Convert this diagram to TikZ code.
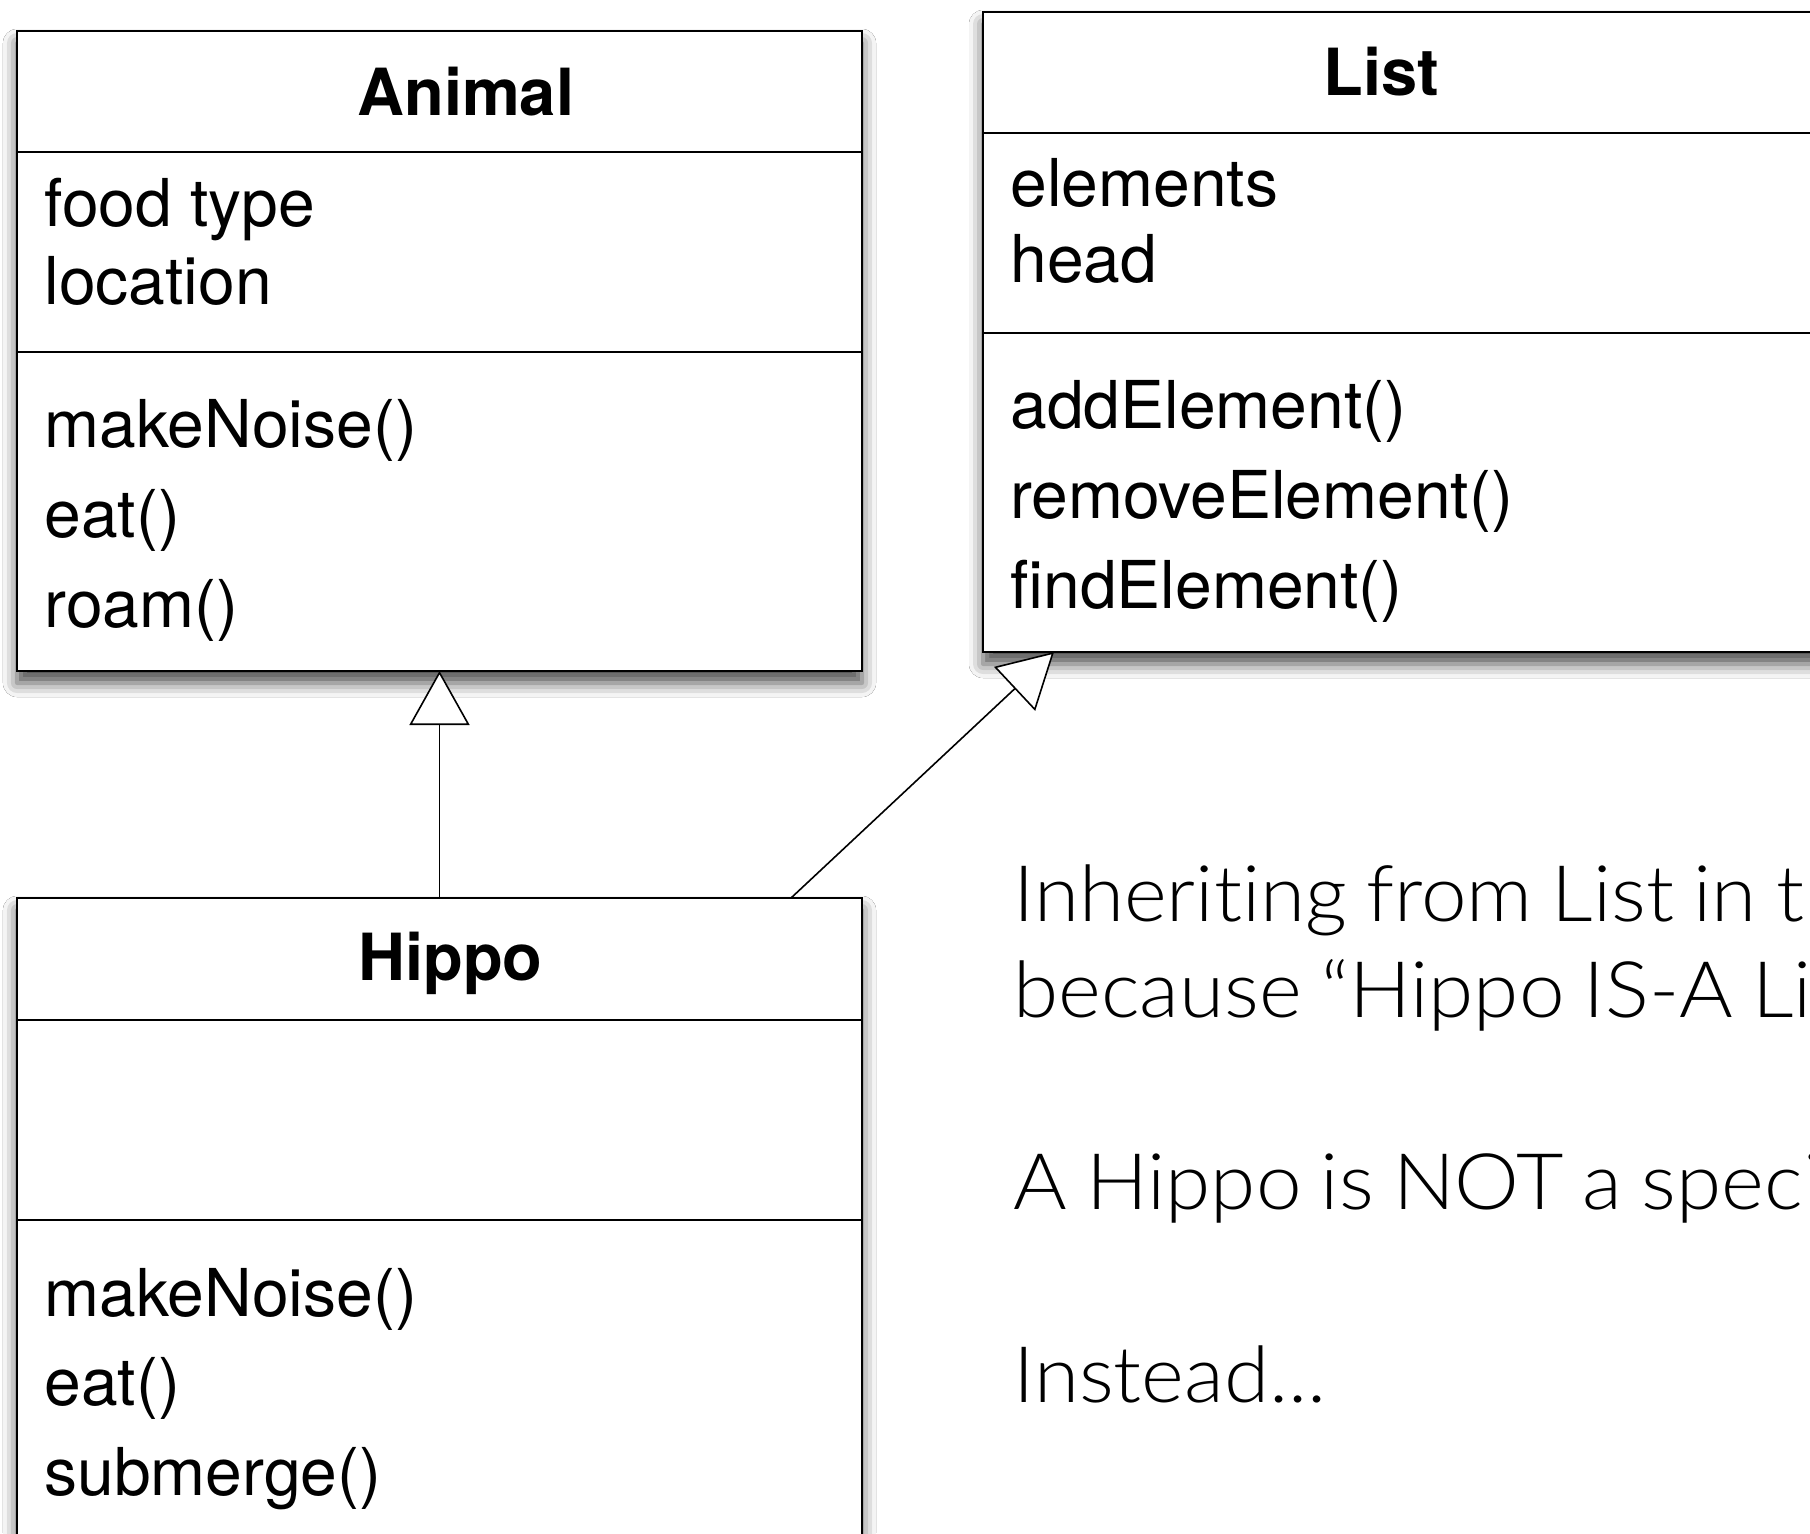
\documentclass[tikz,border=0pt]{standalone}
\usepackage{fontspec}
\setmainfont{TeX Gyre Heros}
\newfontfamily\notefont{Lato Light}[FakeStretch=1.05, WordSpace=0.86, Ligatures={NoCommon,NoContextual}]
\usetikzlibrary{arrows.meta,calc,shadows.blur}

\begin{document}
\begin{tikzpicture}[x=0.5pt,y=-0.5pt,
  classbox/.style={draw=black, line width=1.1pt, fill=white, inner sep=0pt, outer sep=0pt,
    minimum width=422.5pt,
    blur shadow={shadow xshift=0pt, shadow yshift=-6pt, shadow blur radius=7pt, shadow opacity=70}},
  divider/.style={line width=1.1pt},
  classtitle/.style={anchor=base west, inner sep=0pt, font=\fontsize{32.5}{39}\selectfont\bfseries},
  member/.style={anchor=base west, inner sep=0pt, font=\fontsize{33}{39}\selectfont},
  note/.style={anchor=base west, inner sep=0pt, font=\notefont\fontsize{39}{48}\selectfont},
  inherits/.style={line width=0.8pt, -{Triangle[length=27pt, width=30pt, fill=white, line width=0.8pt]}}
]
\fill[white] (0,0) rectangle (1810,1533);
\useasboundingbox (0,0) rectangle (1810,1533);
\clip (0,0) rectangle (1810,1533);

% class boxes
\node[classbox, minimum height=320pt] (animal) at (439.5,351) {};
\node[classbox, minimum height=320pt] (list) at (1405.5,332) {};
\node[classbox, minimum height=362pt] (hippo) at (439.5,1260) {};

% compartment dividers
\draw[divider] (animal.west |- 0,152) -- (animal.east |- 0,152);
\draw[divider] (animal.west |- 0,352) -- (animal.east |- 0,352);
\draw[divider] (list.west |- 0,133) -- (list.east |- 0,133);
\draw[divider] (list.west |- 0,333) -- (list.east |- 0,333);
\draw[divider] (hippo.west |- 0,1020) -- (hippo.east |- 0,1020);
\draw[divider] (hippo.west |- 0,1220) -- (hippo.east |- 0,1220);

% Animal
\node[classtitle] (animal-name) at (357,115) {Animal};
\node[member] (animal-a1) at (44,226) {food type};
\node[member] (animal-a2) at (44,304) {location};
\node[member] (animal-m1) at (44,447) {makeNoise()};
\node[member] (animal-m2) at (44,537) {eat()};
\node[member] (animal-m3) at (44,627) {roam()};

% List
\node[classtitle] (list-name) at (1323,95) {List};
\node[member] (list-a1) at (1010,206) {elements};
\node[member] (list-a2) at (1010,282) {head};
\node[member] (list-m1) at (1010,428) {addElement()};
\node[member] (list-m2) at (1010,518) {removeElement()};
\node[member] (list-m3) at (1010,608) {findElement()};

% Hippo
\node[classtitle] (hippo-name) at (358,980) {Hippo};
\node[member] (hippo-m1) at (44,1316) {makeNoise()};
\node[member] (hippo-m2) at (44,1405) {eat()};
\node[member] (hippo-m3) at (44,1495) {submerge()};

% generalisation arrows
\draw[inherits] (hippo.north) -- (animal.south);
\coordinate (hl-from) at ($(hippo.north west)+(774,0)$);
\coordinate (hl-to) at ($(list.south west)+(71,0)$);
\draw[inherits] (hl-from) -- (hl-to);

% remarks
\node[note] (note1) at (1013,921) {Inheriting from List in th};
\node[note] (note2) at (1013,1017) {because “Hippo IS-A Li};
\node[note] (note3) at (1013,1209) {A Hippo is NOT a speci};
\node[note] (note4) at (1013,1402) {Instead...};
\end{tikzpicture}
\end{document}
